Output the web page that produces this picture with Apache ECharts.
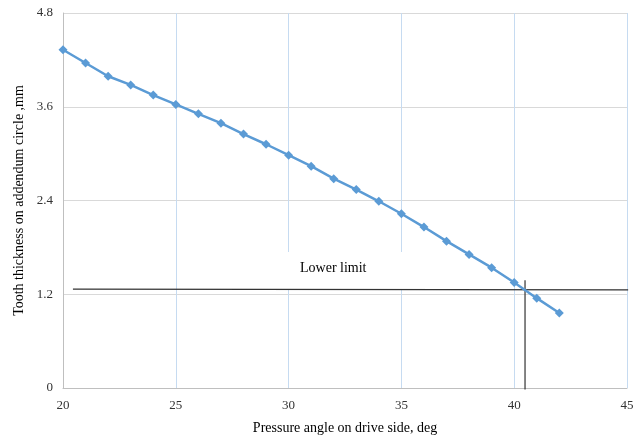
<!DOCTYPE html>
<html>
<head>
<meta charset="utf-8">
<script src="https://cdn.jsdelivr.net/npm/echarts@6/dist/echarts.min.js"></script>
<style>html,body{margin:0;padding:0;background:#fff}#c{width:641px;height:440px}</style>
</head>
<body>
<div id="c"></div>
<script>
var angles = [20,21,22,23,24,25,26,27,28,29,30,31,32,33,34,35,36,37,38,39,40,41,42];
var thickness = [4.33,4.16,3.99,3.88,3.75,3.63,3.51,3.39,3.25,3.12,2.98,2.84,2.68,2.54,2.39,2.23,2.06,1.88,1.71,1.54,1.35,1.15,0.96];
var lowerLimitX = [20.44, 45.05];
var lowerLimitY = [1.265, 1.255];
var crossX = [40.48, 40.48];
var crossY = [1.38, -0.02];
var xTicks = [20,25,30,35,40,45];
var yTicks = [0,1.2,2.4,3.6,4.8];

var serif = '"Liberation Serif","Times New Roman",serif';
var chart = echarts.init(document.getElementById('c'), null, {renderer:'canvas'});
chart.setOption({
  animation:false,
  grid:{left:63,right:14,top:13,bottom:49,containLabel:false},
  xAxis:{
    type:'value',min:xTicks[0],max:xTicks[xTicks.length-1],interval:5,
    name:'Pressure angle on drive side, deg',nameLocation:'middle',nameGap:33,
    nameTextStyle:{fontFamily:serif,fontSize:14,color:'#000'},
    axisLine:{show:true,lineStyle:{color:'#bfbfbf',width:1}},
    axisTick:{show:false},
    axisLabel:{fontFamily:serif,fontSize:13,color:'#333',margin:11},
    splitLine:{show:true,lineStyle:{color:'#c6dbf1',width:1}}
  },
  yAxis:{
    type:'value',min:yTicks[0],max:yTicks[yTicks.length-1],interval:1.2,
    name:'Tooth thickness on addendum circle ,mm',nameLocation:'middle',nameGap:31,
    nameTextStyle:{fontFamily:serif,fontSize:14,color:'#000'},
    axisLine:{show:true,lineStyle:{color:'#bfbfbf',width:1}},
    axisTick:{show:false},
    axisLabel:{fontFamily:serif,fontSize:13,color:'#333',margin:10},
    splitLine:{show:true,lineStyle:{color:'#d9d9d9',width:1}}
  },
  graphic:[
    {type:'rect',z:1,shape:{x:287,y:252,width:116,height:38},style:{fill:'#fff'}},
    {type:'text',z:3,left:300,top:261,style:{text:'Lower limit',font:'14px "Liberation Serif", serif',fill:'#000'}}
  ],
  series:[
    {type:'line',data:lowerLimitX.map(function(x,i){return [x,lowerLimitY[i]];}),
     symbol:'none',clip:false,lineStyle:{color:'#333',width:1.2},z:3,silent:true},
    {type:'line',data:crossX.map(function(x,i){return [x,crossY[i]];}),
     symbol:'none',clip:false,lineStyle:{color:'#333',width:1.2},z:3,silent:true},
    {type:'line',data:angles.map(function(x,i){return [x,thickness[i]];}),
     symbol:'diamond',symbolSize:9,showAllSymbol:true,
     lineStyle:{color:'#5b9bd5',width:2.5},itemStyle:{color:'#5b9bd5'},z:4}
  ]
});
</script>
</body>
</html>
